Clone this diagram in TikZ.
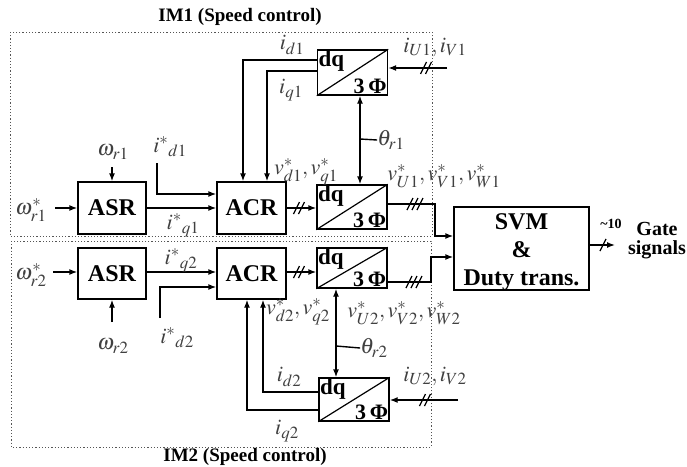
\documentclass[tikz,border=0pt]{standalone}
\usepackage{mathptmx}
\usepackage[no-math]{fontspec}
\setmainfont{Liberation Serif}
\usetikzlibrary{arrows.meta}
\DeclareMathSizes{22}{22}{17}{12}
\definecolor{lbl}{HTML}{404040}
\definecolor{dotc}{HTML}{555555}
\tikzset{
  ln/.style={line width=1.4pt},
  arr/.style={ln, -{Latex[length=8pt,width=6pt]}},
  darr/.style={ln, {Latex[length=8pt,width=6pt]}-{Latex[length=8pt,width=6pt]}},
  box/.style={draw, line width=1.4pt, minimum width=68pt, minimum height=52pt, inner sep=0pt, font=\fontsize{24}{28}\selectfont\bfseries},
  dqb/.style={draw, line width=1.4pt, minimum width=70pt, inner sep=0pt},
  lab/.style={text=lbl, inner sep=0pt, font=\fontsize{22}{26}\selectfont},
  dotbox/.style={draw=dotc, line width=1pt, dash pattern=on 1.2pt off 2pt},
  ttl/.style={font=\fontsize{19}{22}\selectfont\bfseries, inner sep=0pt},
  sl1/.pic={\draw[line width=1.2pt] (-3,6)--(3,-6);},
  sl2/.pic={\draw[line width=1.2pt] (-5.5,6)--(0.5,-6) (-0.5,6)--(5.5,-6);},
  sl3/.pic={\draw[line width=1.2pt] (-8,6)--(-2,-6) (-3,6)--(3,-6) (2,6)--(8,-6);}
}
\newcommand\dqbox[4]{%
  \node[dqb, minimum height=#4pt] (#1) at (#2,#3) {};
  \draw[line width=1.2pt] (#1.south west) -- (#1.north east);
  \node[anchor=north west, inner sep=1.5pt, font=\fontsize{23}{24}\selectfont\bfseries] at (#1.north west) {dq};
  \node[anchor=south east, inner sep=1.5pt, font=\fontsize{22}{24}\selectfont\bfseries] at (#1.south east) {3\,Φ};
}
\begin{document}
\begin{tikzpicture}[x=1pt,y=-1pt]
\fill[white] (0,0) rectangle (687,466);
\useasboundingbox (0,0) rectangle (687,466);

% dotted frames and titles
\draw[dotbox] (10,32) rectangle (432,236);
\draw[dotbox] (11,241) rectangle (431,447);
\node[ttl] (t1) at (240,17) {IM1 (Speed control)};
\node[ttl] (t2) at (245,457) {IM2 (Speed control)};

% blocks
\node[box] (ASR1) at (112,208) {ASR};
\node[box, minimum width=69pt] (ACR1) at (251.5,208) {ACR};
\node[box, minimum height=51pt] (ASR2) at (112,273.5) {ASR};
\node[box, minimum width=69pt, minimum height=51pt] (ACR2) at (251.5,273.5) {ACR};
\dqbox{dqA1}{352}{207}{44}
\dqbox{dqB1}{352.5}{72.5}{45}
\dqbox{dqA2}{352}{268}{40}
\dqbox{dqB2}{354}{399.5}{43}
\node[draw, line width=1.4pt, minimum width=135pt, minimum height=83pt, inner sep=0pt] (SVM) at (521.5,248.5) {};
\node[align=center, inner sep=0pt, font=\fontsize{24}{28}\selectfont\bfseries] (svmtxt) at (521.5,252) {SVM\\\&\\Duty trans.};

% ---------------- IM1 ----------------
\node[lab] (wr1s) at (31,210) {$\omega^{*}_{r1}$};
\draw[arr] (55,208) -- (ASR1.west);
\node[lab] (wr1) at (113,152) {$\omega_{r1}$};
\coordinate (wr1c) at (112,167);
\draw[arr] (wr1c) -- (ASR1.north);
\draw[arr] (ASR1.east) -- (ASR1.east -| ACR1.west);
\node[lab] (iq1s) at (183,225) {$i^{*}{}_{q1}$};
\node[lab] (id1s) at (170,147) {$i^{*}{}_{d1}$};
\coordinate (id1c) at (157,163);
\coordinate (id1b) at (157,194);
\draw[arr] (id1c) -- (id1b) -- (id1b -| ACR1.west);
\draw[arr] (ACR1.east) -- (ACR1.east -| dqA1.west);
\pic at (299,208) {sl2};
\coordinate (bd1) at (243,60);
\coordinate (bq1) at (267,71);
\draw[arr] (dqB1.west |- bd1) -| (ACR1.north -| bd1);
\draw[arr] (dqB1.west |- bq1) -| (ACR1.north -| bq1);
\node[lab] (id1) at (292,45) {$i_{d1}$};
\node[lab] (iq1) at (291,90) {$i_{q1}$};
\node[lab] (vdq1) at (306,172) {$v^{*}_{d1}, v^{*}_{q1}$};
\coordinate (th1) at (360,139);
\draw[darr] (dqB1.south -| th1) -- (dqA1.north -| th1);
\node[lab] (th1l) at (391,140) {$\theta_{r1}$};
\draw[ln] (th1) -- (th1l.west);
\node[lab] (iuv1) at (435,47) {$i_{U1}, i_{V1}$};
\coordinate (iu1) at (447,68);
\draw[arr] (iu1) -- (iu1 -| dqB1.east);
\pic at (426,68) {sl2};
\node[lab] (vuvw1) at (444,176) {$v^{*}_{U1}, v^{*}_{V1}, v^{*}_{W1}$};
\coordinate (s1a) at (435,204);
\coordinate (s1b) at (435,236);
\draw[arr] (dqA1.east |- s1a) -- (s1a) -- (s1b) -- (SVM.west |- s1b);
\pic at (415,204) {sl3};

% ---------------- IM2 ----------------
\node[lab] (wr2s) at (31,275) {$\omega^{*}_{r2}$};
\draw[arr] (53,272) -- (ASR2.west |- 0,272);
\node[lab] (wr2) at (113,346) {$\omega_{r2}$};
\coordinate (wr2c) at (112,322);
\draw[arr] (wr2c) -- (ASR2.south);
\draw[arr] (ASR2.east |- 0,272) -- (ACR2.west |- 0,272);
\node[lab] (iq2s) at (181,260) {$i^{*}{}_{q2}$};
\node[lab] (id2s) at (177,338) {$i^{*}{}_{d2}$};
\coordinate (id2c) at (160,318);
\coordinate (id2b) at (160,287);
\draw[arr] (id2c) -- (id2b) -- (id2b -| ACR2.west);
\draw[arr] (ACR2.east |- 0,272) -- (dqA2.west |- 0,272);
\pic at (299,272) {sl2};
\coordinate (bd2) at (263,392);
\coordinate (bq2) at (247,410);
\draw[arr] (dqB2.west |- bd2) -| (ACR2.south -| bd2);
\draw[arr] (dqB2.west |- bq2) -| (ACR2.south -| bq2);
\node[lab] (id2) at (289,377) {$i_{d2}$};
\node[lab] (iq2) at (287,431) {$i_{q2}$};
\node[lab] (vdq2) at (298,312) {$v^{*}_{d2}, v^{*}_{q2}$};
\coordinate (th2) at (336,346);
\draw[darr] (dqA2.south -| th2) -- (dqB2.north -| th2);
\node[lab] (th2l) at (374,348) {$\theta_{r2}$};
\draw[ln] (th2) -- (th2l.west);
\node[lab] (iuv2) at (435,376) {$i_{U2}, i_{V2}$};
\coordinate (iu2) at (458,400);
\draw[arr] (iu2) -- (iu2 -| dqB2.east);
\pic at (425,400) {sl2};
\node[lab] (vuvw2) at (404,313) {$v^{*}_{U2}, v^{*}_{V2}, v^{*}_{W2}$};
\coordinate (s2a) at (431,282);
\coordinate (s2b) at (431,257);
\draw[arr] (dqA2.east |- s2a) -- (s2a) -- (s2b) -- (SVM.west |- s2b);
\pic at (414,282) {sl3};

% ---------------- output ----------------
\coordinate (out) at (615,245);
\draw[arr] (SVM.east |- out) -- (out);
\pic at (603,245) {sl1};
\node[font=\fontsize{14}{16}\selectfont\bfseries, inner sep=0pt] (ten) at (611,224) {\textasciitilde10};
\node[align=center, font=\fontsize{20}{19}\selectfont\bfseries, inner sep=0pt] (gate) at (657,241) {Gate\\signals};
\end{tikzpicture}
\end{document}
